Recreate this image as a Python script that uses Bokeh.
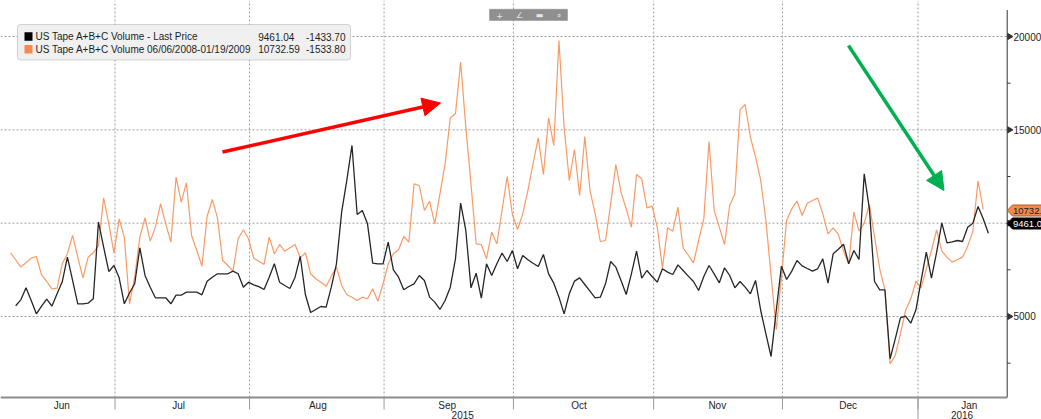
import numpy as np
from bokeh.plotting import figure
from bokeh.models import Range1d, BoxAnnotation, Label, Arrow, NormalHead
from bokeh.core.properties import value
from bokeh.embed import file_html
from bokeh.resources import INLINE

# ---------------- data ----------------
black_vals = [
    5573, 5894, 6538, 5857, 5144, 5552, 5927, 5552, 6216, 6859, 8178, 6929, 5680, 5680, 5713, 5948,
    10054, 8714, 7412, 7733, 7074, 5680, 6260,
    6752, 8682, 7197, 6570, 6002, 6002, 6002, 5680, 6141, 6141, 6302, 6302, 6302, 6162, 6891, 7106,
    7288, 7288, 7288, 7431, 7288, 6570, 6838, 6695,
    6600, 6447, 7106, 7824, 6838, 6663, 6502, 7106, 8215, 6162, 5215, 5375, 5536, 5498, 6570, 7824,
    10590, 12288, 14164, 10466, 10680, 9966, 7860, 7824,
    7821, 8982, 7500, 7107, 6429, 6607, 6750, 7196, 6929, 6036, 5768, 5375, 5857, 6571, 8089, 11071,
    9607, 6536, 7321, 5982, 7821, 7196, 7821, 8393, 7946, 8536, 7554, 8268, 8036, 7850, 7679,
    8321, 7286, 6786, 6036, 5143, 6214, 6893, 7071, 6714, 6357, 6000, 6036, 6750, 7946, 7643, 6929,
    6179, 7286, 8500, 7054, 7464, 7143, 6839, 7554, 7375, 7250, 7768, 7464,
    7160, 6875,
    6393, 7143, 7732, 7286, 6804, 7607, 7196, 6536, 6875, 6571, 6214, 6929, 5321, 4071, 2857, 5321,
    7696, 6982, 7429, 8000, 7714, 7571, 7429, 7554, 8089, 6786, 8357, 8607, 8875,
    7821, 8536, 8054, 12643, 10768, 6875, 6429, 6429, 2732, 3804, 4929, 5018, 4643, 5357, 6929, 8446,
    7054, 8446, 10018, 8946, 9000, 9071, 9018, 9786, 10000, 10894.74, 10232, 9461.04,
]
orange_vals = [
    8413, 8039, 7645, 7880, 8125, 8215, 7234, 6876, 6484, 6516, 7824, 8360, 9341, 8178, 7074, 8178,
    8413, 8805, 11361, 9966, 8393, 10234, 9250, 5680,
    7106, 9250, 10286, 9036, 9786, 11039, 9966, 8982, 12466, 11125, 12163, 9341, 8537, 7698, 10357,
    11270, 10286, 8002, 7733, 7431, 9164, 9646, 9164, 8125,
    7960, 7787, 9250, 8360, 8858, 8500, 8680, 8858, 8143, 8413, 7288, 7020, 6838, 6625, 7160, 7642,
    6663, 6162, 6034, 5857, 6034, 5948, 6484, 5821,
    6750, 7821, 8357, 8571, 9286, 8982, 12107, 12018, 10679, 11179, 9964, 11571, 13179, 15643, 15857,
    18625, 15143, 12107, 8893, 8857, 8089, 9518, 8893, 10679, 12500, 10464, 9661, 10500, 11750, 13200, 14571,
    12607, 15643, 14161, 19786, 15143, 12286, 13946, 11482, 14643, 11750, 10500, 9018, 9071, 11036,
    13143, 11661, 10768, 9786, 12607, 12375, 10821, 10911, 9786, 7607, 9750, 9571, 10857, 8679,
    8280, 7875,
    9071, 10232, 14375, 10679, 9786, 8857, 10946, 11571, 16071, 16357, 14607, 13536, 12286, 10143,
    7196, 4286, 7107, 10143, 10768, 11179, 10411, 11071, 11214, 11339, 10500, 9429, 9750, 9393, 8500,
    7821, 10589, 9571, 10000, 11000, 9250, 7554, 6429, 2464, 2911, 4071, 5321, 5946, 6893, 6536, 7554,
    8536, 9643, 8500, 8179, 7911, 8036, 8179, 8768, 9571, 12266.39, 10732.59,
]
orange_idx = list(range(len(orange_vals)))            # orange starts one day earlier
black_idx = list(range(1, len(black_vals) + 1))

month_names = ["Jun", "Jul", "Aug", "Sep", "Oct", "Nov", "Dec", "Jan"]
month_centers = [9.9, 32.5, 59.4, 84.4, 109.9, 136.6, 161.9, 185.3]
month_bounds = [20.2, 46.2, 72.2, 97.2, 124.3, 149.2, 175.4]
year_names = ["2015", "2016"]
year_centers = [87.4, 183.9]
year_bounds = [175.4]
y_major = [5000, 10000, 15000, 20000]
y_minor = [2500, 7500, 12500, 17500]
y_labels = ["5000", "10000", "15000", "20000"]

legend_names = ["US Tape A+B+C Volume - Last Price",
                "US Tape A+B+C Volume 06/06/2008-01/19/2009"]
legend_last = ["9461.04", "10732.59"]
legend_change = ["-1433.70", "-1533.80"]
tag_texts = ["10732.", "9461.0"]   # as far as the tags are visible at the window edge

# ---------------- helpers: reference pixel -> data ----------------
def px2x(px):
    return (px - 10.0) / 5.174

def px2y(py):
    return 20000.0 - (py - 36.0) * 5000.0 / 93.33

FONT = "Liberation Sans"
BLACK = "#262626"
ORANGE = "#F99A65"
TXT = "#1e1e1e"
GRID = "#9e9e9e"

W, H = 1041, 419
X0, X1 = px2x(0), px2x(W)
Y0, Y1 = px2y(H), px2y(0)
AX_X = px2x(1006.7)               # value axis position
AX_Y = px2y(397)                  # time axis position

p = figure(width=W, height=H, x_range=Range1d(X0, X1), y_range=Range1d(Y0, Y1),
           x_axis_location=None, y_axis_location=None, output_backend="svg",
           toolbar_location=None, min_border=0)
p.outline_line_color = None
p.background_fill_color = "white"
p.border_fill_color = "white"
p.grid.visible = False

# dotted grid
p.segment(x0=X0, x1=AX_X, y0=y_major, y1=y_major, line_color=GRID,
          line_dash="2 2", line_width=1)
p.segment(x0=month_bounds, x1=month_bounds, y0=AX_Y, y1=Y1, line_color=GRID,
          line_dash="2 2", line_width=1)

# series
p.line(orange_idx, orange_vals, line_color=ORANGE, line_width=1.2)
p.line(black_idx, black_vals, line_color=BLACK, line_width=1.3)

# value axis (right)
p.segment(x0=[AX_X], x1=[AX_X], y0=[AX_Y], y1=[px2y(9.5)], line_color="#333333", line_width=1)
p.scatter(x=[px2x(1009)] * len(y_major), y=y_major, marker="triangle", size=6,
          angle=-np.pi / 2, fill_color="#333333", line_color="#333333")
p.segment(x0=[AX_X] * len(y_minor), x1=[px2x(1010)] * len(y_minor), y0=y_minor, y1=y_minor,
          line_color="#333333", line_width=1)
p.text(x=[px2x(1013)] * len(y_major), y=y_major, text=y_labels, text_font=value(FONT),
       text_font_size="10px", text_baseline="middle", text_align="left", text_color=TXT)

# time axis (bottom)
p.segment(x0=[X0], x1=[AX_X], y0=[AX_Y], y1=[AX_Y], line_color="#8c8c8c", line_width=2)
p.segment(x0=month_bounds, x1=month_bounds, y0=[AX_Y] * len(month_bounds),
          y1=[px2y(409)] * len(month_bounds), line_color="#9a9a9a", line_width=1)
p.segment(x0=year_bounds, x1=year_bounds, y0=[AX_Y] * len(year_bounds),
          y1=[Y0] * len(year_bounds), line_color="#9a9a9a", line_width=1)
p.text(x=month_centers, y=[px2y(405)] * len(month_centers), text=month_names,
       text_font=value(FONT), text_font_size="10px", text_baseline="middle",
       text_align="center", text_color=TXT)
p.text(x=year_centers, y=[px2y(414)] * len(year_centers), text=year_names,
       text_font=value(FONT), text_font_size="10px", text_baseline="middle",
       text_align="center", text_color=TXT)

# value tags on the right axis
tag_fill = ["#F28A50", "#000000"]
tag_line = ["#b05a2a", "#000000"]
tag_text_col = ["#1a1a1a", "#ffffff"]
tag_cy = [210.0, 223.0]
for i in range(2):
    cy = tag_cy[i]
    p.patch(x=[px2x(1006.7), px2x(1012), px2x(1050), px2x(1050), px2x(1012)],
            y=[px2y(cy), px2y(cy - 5.5), px2y(cy - 5.5), px2y(cy + 5.5), px2y(cy + 5.5)],
            fill_color=tag_fill[i], line_color=tag_line[i], line_width=1)
    p.text(x=[px2x(1012.5)], y=[px2y(cy)], text=[tag_texts[i]], text_font=value(FONT),
           text_font_size="9.5px", text_baseline="middle", text_align="left",
           text_color=tag_text_col[i])

# arrows
p.add_layout(Arrow(x_start=px2x(222), y_start=px2y(151.5), x_end=px2x(440), y_end=px2y(102.5),
                   line_color="#FF0000", line_width=3.5,
                   end=NormalHead(size=18, fill_color="#FF0000", line_color="#FF0000")))
p.add_layout(Arrow(x_start=px2x(848), y_start=px2y(45), x_end=px2x(943.5), y_end=px2y(190),
                   line_color="#00B050", line_width=3.5,
                   end=NormalHead(size=18, fill_color="#00B050", line_color="#00B050")))

# legend box
p.add_layout(BoxAnnotation(left=px2x(17), right=px2x(350), top=px2y(24), bottom=px2y(59.5),
                           fill_color="#f0f0f0", fill_alpha=1.0, line_color="#7a7a7a",
                           line_width=1, border_radius=3))
sw_colors = ["#000000", "#F58A4E"]
row_y = [36.0, 48.7]
for i in range(2):
    p.add_layout(BoxAnnotation(left=px2x(24), right=px2x(32), top=px2y(row_y[i] - 4.2),
                               bottom=px2y(row_y[i] + 4.2), fill_color=sw_colors[i],
                               fill_alpha=1.0, line_color=None))
    for xx, txt in ((35, legend_names[i]), (257.7, legend_last[i]), (305.5, legend_change[i])):
        p.add_layout(Label(x=px2x(xx), y=px2y(row_y[i]), text=txt, text_baseline="middle",
                           text_align="left", text_font=FONT, text_font_size="10px",
                           text_color=TXT))

# small toolbar overlay at top
p.add_layout(BoxAnnotation(left=px2x(489), right=px2x(567), top=px2y(8.7), bottom=px2y(20),
                           fill_color="#8f8f8f", fill_alpha=1.0, line_color="#6a6a6a"))
for xx, ch in ((499, "+"), (519, "\u2220"), (539, "\u25AC"), (558, "\u2315")):
    p.add_layout(Label(x=px2x(xx), y=px2y(14.5), text=ch, text_align="center",
                       text_baseline="middle", text_font="DejaVu Sans",
                       text_font_size="8px", text_color="#e6e6e6"))

open("out.html", "w").write(file_html(p, INLINE))
